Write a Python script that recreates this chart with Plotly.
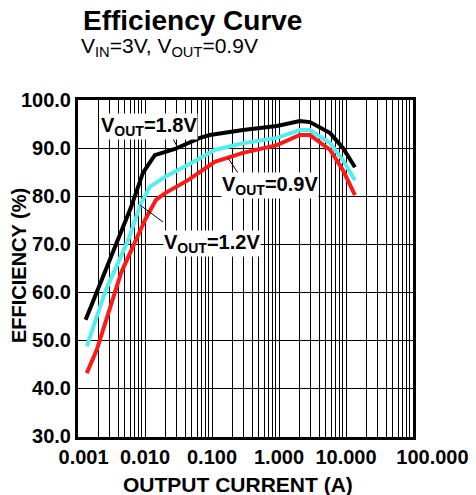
import plotly.graph_objects as go

# Output current (A) and efficiency (%)
i_18 = [0.0013, 0.0031, 0.0062, 0.0093, 0.014, 0.028, 0.066, 0.093, 0.29, 0.93, 2.04, 2.9, 5.8, 9.0, 13.6]
e_18 = [54.2, 67.3, 77.7, 84.8, 88.5, 89.8, 92.1, 92.7, 93.75, 94.6, 95.6, 95.4, 93.1, 90.0, 86.0]

i_12 = [0.00135, 0.0026, 0.0056, 0.0087, 0.0118, 0.02, 0.044, 0.11, 0.29, 0.93, 2.04, 2.9, 5.8, 9.0, 13.6]
e_12 = [48.7, 60.4, 70.8, 78.5, 81.9, 84.0, 86.5, 89.6, 91.0, 92.1, 93.75, 93.75, 91.0, 87.5, 83.3]

i_09 = [0.00135, 0.0019, 0.0044, 0.01, 0.0146, 0.02, 0.044, 0.11, 0.29, 0.93, 2.04, 2.9, 5.8, 9.0, 13.6]
e_09 = [43.1, 47.9, 64.0, 75.0, 79.2, 80.6, 83.3, 87.1, 89.0, 90.6, 92.7, 92.7, 89.6, 85.4, 80.2]

x_tickvals = [0.001, 0.01, 0.1, 1, 10, 100]
x_ticktext = ["0.001", "0.010", "0.100", "1.000", "10.000", "100.000"]
y_tickvals = [30, 40, 50, 60, 70, 80, 90, 100]
y_ticktext = ["30.0", "40.0", "50.0", "60.0", "70.0", "80.0", "90.0", "100.0"]

FONT = "Liberation Sans"
NB = "\u00a0"
# pad the outer x labels so they sit like the reference
x_ticktext_disp = list(x_ticktext)
x_ticktext_disp[0] = NB * 2 + x_ticktext[0]
x_ticktext_disp[-1] = NB * 7 + x_ticktext[-1]

fig = go.Figure()
fig.add_trace(go.Scatter(x=i_18, y=e_18, mode="lines", line=dict(color="black", width=4), name="1.8V"))
fig.add_trace(go.Scatter(x=i_12, y=e_12, mode="lines", line=dict(color="#55EEEE", width=4), name="1.2V"))
fig.add_trace(go.Scatter(x=i_09, y=e_09, mode="lines", line=dict(color="#FF1A1A", width=4), name="0.9V"))

L, R, T, B = 78, 413, 100, 437
W, H = 476, 495
def px(x):
    return (x - L) / (R - L)
def py(y):
    return (B - y) / (B - T)

annos = [
    dict(text="<b>Efficiency Curve</b>", x=px(81), y=py(20), xanchor="left", yanchor="middle",
         font=dict(size=28, family=FONT, color="black")),
    dict(text="V<sub>IN</sub>=3V, V<sub>OUT</sub>=0.9V", x=px(79), y=py(47), xanchor="left", yanchor="middle",
         font=dict(size=21, family=FONT, color="black")),
    dict(text="<b>EFFICIENCY (%)</b>", x=px(19), y=py(266), textangle=-90, xanchor="center", yanchor="middle",
         font=dict(size=20, family=FONT, color="black")),
    dict(text="<b>OUTPUT CURRENT (A)</b>", x=px(238), y=py(484), xanchor="center", yanchor="middle",
         font=dict(size=21, family=FONT, color="black")),
]
labels = [
    ("V<sub>OUT</sub>=1.8V", 149, 126, 172, 137, 178, 148),
    ("V<sub>OUT</sub>=0.9V", 270, 185, 238, 173, 228, 158),
    ("V<sub>OUT</sub>=1.2V", 212, 243, 163, 222, 140, 205),
]
shapes = []
for txt, cx, cy, x0, y0, x1, y1 in labels:
    shapes.append(dict(type="line", xref="paper", yref="paper", x0=px(x0), y0=py(y0), x1=px(x1), y1=py(y1),
                       line=dict(color="black", width=1)))
for txt, cx, cy, x0, y0, x1, y1 in labels:
    annos.append(dict(text="<b>" + txt + "</b>", x=px(cx), y=py(cy), xanchor="center", yanchor="middle",
                      bgcolor="white", borderpad=0,
                      font=dict(size=20, family=FONT, color="black")))
for a in annos:
    a["xref"] = "paper"
    a["yref"] = "paper"
    a["showarrow"] = False

fig.update_layout(
    width=W, height=H,
    margin=dict(l=L, r=W - R, t=T, b=H - B),
    paper_bgcolor="white", plot_bgcolor="white",
    showlegend=False,
    annotations=annos,
    shapes=shapes,
    font=dict(family=FONT, color="black"),
)
fig.update_xaxes(type="log", range=[-3, 2], tickvals=x_tickvals, ticktext=x_ticktext_disp, automargin=False,
                 tickangle=0,
                 tickfont=dict(size=20, family=FONT, color="black", weight="bold"),
                 showgrid=True, gridcolor="black", gridwidth=1.3,
                 minor=dict(showgrid=True, gridcolor="black", gridwidth=1, dtick="D1", ticks=""),
                 showline=True, linecolor="black", linewidth=3, mirror=True, ticks="", zeroline=False)
fig.update_yaxes(range=[29.8, 100], tickvals=y_tickvals, ticktext=y_ticktext, automargin=False,
                 tickfont=dict(size=20, family=FONT, color="black", weight="bold"),
                 showgrid=True, gridcolor="black", gridwidth=1.3,
                 showline=True, linecolor="black", linewidth=3, mirror=True, ticks="", zeroline=False)

fig.write_html("out.html", config={"displayModeBar": False},
               post_script="document.body.style.margin='0px';document.body.style.overflow='hidden';")
